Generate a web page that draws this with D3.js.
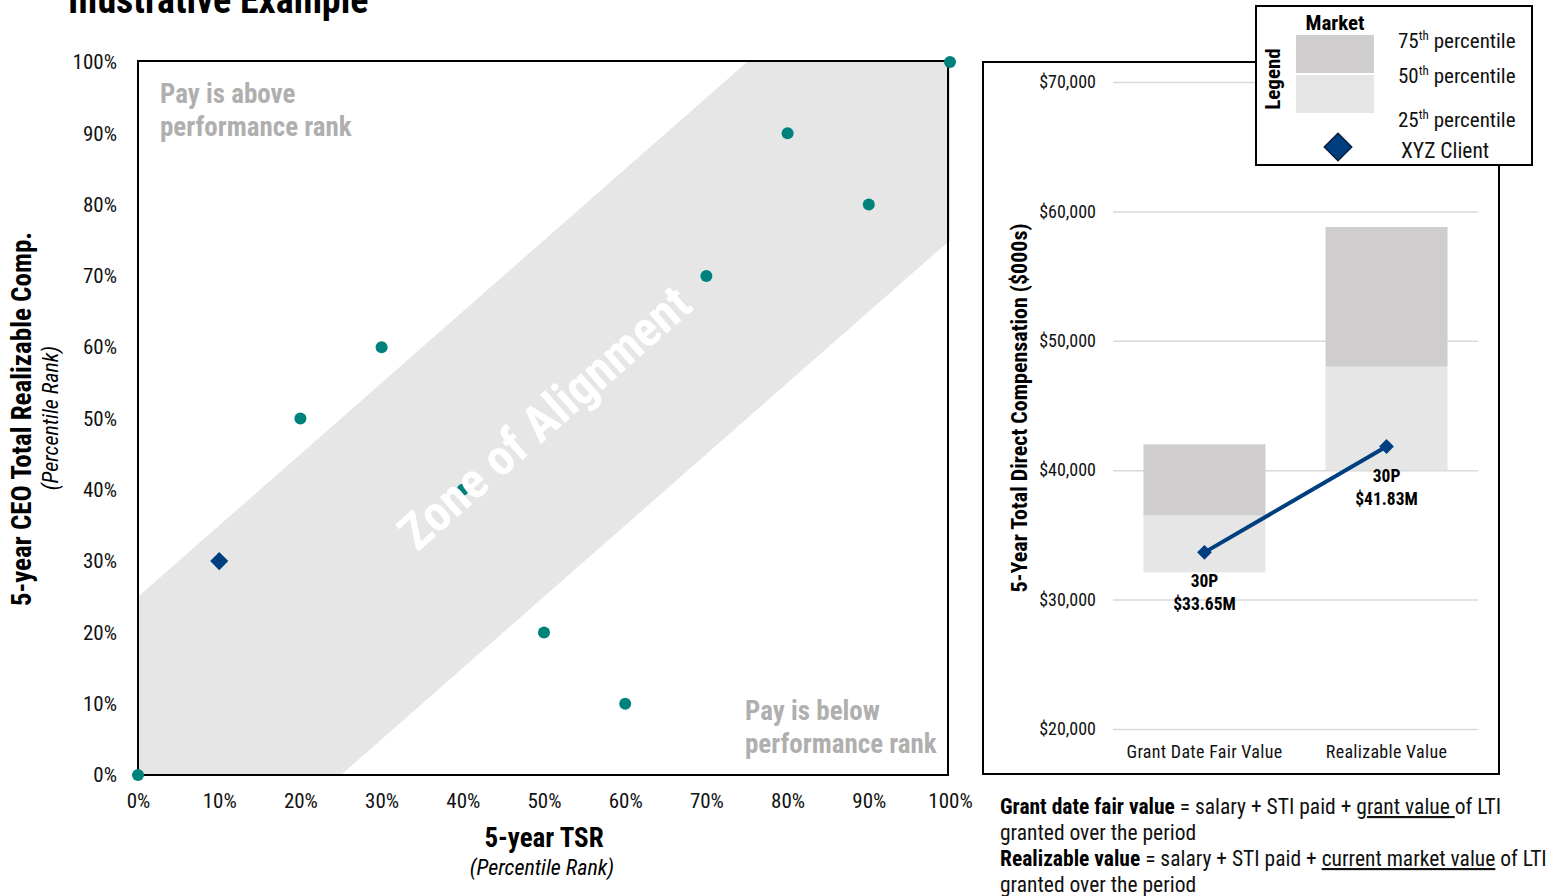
<!DOCTYPE html>
<html>
<head>
<meta charset="utf-8">
<script src="https://cdn.jsdelivr.net/npm/d3@7"></script>
<style>
  html, body { margin: 0; padding: 0; background: #fff; }
  svg { display: block; }
  text { font-family: "Roboto Condensed", "Liberation Sans Narrow", "Arial Narrow", Roboto, sans-serif; }
</style>
</head>
<body>
<svg id="chart" width="1552" height="896"></svg>
<script>
// ---- Scatter: TSR rank vs realizable pay rank ----
const peerTSR   = [0, 20, 30, 40, 50, 60, 70, 80, 90, 100];
const peerPay   = [0, 50, 60, 40, 20, 10, 70, 90, 80, 100];
const clientTSR = 10;
const clientPay = 30;
const pctTicks  = [0, 10, 20, 30, 40, 50, 60, 70, 80, 90, 100];
// band of +/- 25 percentile points around the diagonal
const zoneWidth = 25;

// ---- Compensation range panel ----
const categories = ["Grant Date Fair Value", "Realizable Value"];
const p25 = [32100, 40000];
const p50 = [36500, 48000];
const p75 = [42000, 58800];
const clientValue = [33650, 41830];
const clientLabel = ["30P", "30P"];
const clientValueText = ["$33.65M", "$41.83M"];
const compTicks = [20000, 30000, 40000, 50000, 60000, 70000];

const svg = d3.select("#chart");
const teal = "#00827c", navy = "#003f7f", zone = "#e6e6e6", upper = "#cfcdce";
const fmtPct = d => d + "%";
const fam = "'Roboto Condensed','Liberation Sans Narrow',Roboto,sans-serif";

// title (runs off the top edge)
svg.append("text").attr("x", 68).attr("y", 13)
  .attr("font-size", 38).attr("font-weight", 700).attr("fill", "#000")
  .text("Illustrative Example");

// ================= left scatter =================
const x = d3.scaleLinear().domain([0, 100]).range([138, 950]);
const y = d3.scaleLinear().domain([0, 100]).range([775, 62]);

const zonePts = [[0, 0], [0, zoneWidth], [100 - zoneWidth, 100], [100, 100], [100, 100 - zoneWidth], [zoneWidth, 0]];
svg.append("path")
  .attr("d", d3.line().x(d => x(d[0])).y(d => y(d[1]))(zonePts) + "Z")
  .attr("fill", zone);

svg.append("rect")
  .attr("x", x(0)).attr("y", y(100) - 1)
  .attr("width", 948 - x(0)).attr("height", y(0) - y(100) + 1)
  .attr("fill", "none").attr("stroke", "#000").attr("stroke-width", 2);

const yAx = svg.append("g").attr("transform", `translate(${x(0)},0)`)
  .call(d3.axisLeft(y).tickValues(pctTicks).tickFormat(fmtPct).tickSize(0).tickPadding(21));
yAx.select(".domain").remove();
yAx.selectAll("text").attr("font-size", 21).attr("fill", "#111").style("font-family", fam);

const xAx = svg.append("g").attr("transform", `translate(0,${y(0)})`)
  .call(d3.axisBottom(x).tickValues(pctTicks).tickFormat(fmtPct).tickSize(0).tickPadding(18));
xAx.select(".domain").remove();
xAx.selectAll("text").attr("font-size", 21).attr("fill", "#111").style("font-family", fam);

// peers
svg.append("g").selectAll("circle")
  .data(peerTSR.map((t, i) => [t, peerPay[i]]))
  .join("circle")
  .attr("cx", d => x(d[0])).attr("cy", d => y(d[1])).attr("r", 6)
  .attr("fill", teal);

// client
svg.append("path")
  .attr("d", d3.symbol(d3.symbolDiamond2, 210)())
  .attr("transform", `translate(${x(clientTSR)},${y(clientPay)})`)
  .attr("fill", navy);

// zone label along the diagonal
const ang = Math.atan2(y(0) - y(100), x(100) - x(0)) * 180 / Math.PI;
svg.append("text")
  .attr("transform", `translate(${x(50) + 12},${y(50) + 12}) rotate(${-ang})`)
  .attr("text-anchor", "middle").attr("font-size", 50).attr("font-weight", 700)
  .attr("fill", "#fff").text("Zone of Alignment");

const note = (lines, x0, y0) => {
  const t = svg.append("text").attr("x", x0).attr("y", y0)
    .attr("font-size", 27).attr("font-weight", 700).attr("fill", "#b0afaf");
  lines.forEach((l, i) => t.append("tspan").attr("x", x0).attr("dy", i ? 33 : 0).text(l));
};
note(["Pay is above", "performance rank"], 160, 103);
note(["Pay is below", "performance rank"], 745, 720);

// axis titles
svg.append("text").attr("transform", `translate(31,419) rotate(-90)`)
  .attr("text-anchor", "middle").attr("font-size", 27).attr("font-weight", 700)
  .text("5-year CEO Total Realizable Comp.");
svg.append("text").attr("transform", `translate(58,418) rotate(-90)`)
  .attr("text-anchor", "middle").attr("font-size", 22).attr("font-style", "italic")
  .text("(Percentile Rank)");
svg.append("text").attr("x", 544).attr("y", 847)
  .attr("text-anchor", "middle").attr("font-size", 27).attr("font-weight", 700)
  .text("5-year TSR");
svg.append("text").attr("x", 542).attr("y", 875)
  .attr("text-anchor", "middle").attr("font-size", 22).attr("font-style", "italic")
  .text("(Percentile Rank)");

// ================= right range panel =================
svg.append("rect").attr("x", 983).attr("y", 62).attr("width", 516).attr("height", 712)
  .attr("fill", "none").attr("stroke", "#000").attr("stroke-width", 2);

const y2 = d3.scaleLinear().domain([20000, 70000]).range([729, 82]);
const x2 = d3.scaleBand().domain(categories).range([1113, 1478])
  .paddingInner(0.33).paddingOuter(0.1675);

const y2Ax = svg.append("g").attr("transform", "translate(1113,0)")
  .call(d3.axisLeft(y2).tickValues(compTicks).tickFormat(d => "$" + d3.format(",")(d))
    .tickSize(-365).tickPadding(17));
y2Ax.select(".domain").remove();
y2Ax.selectAll("line").attr("stroke", "#d9d9d9").attr("stroke-width", 1.5);
y2Ax.selectAll("text").attr("font-size", 18).attr("fill", "#111").style("font-family", fam);

const bars = svg.append("g");
categories.forEach((c, i) => {
  bars.append("rect").attr("x", x2(c)).attr("width", x2.bandwidth())
    .attr("y", y2(p50[i])).attr("height", y2(p25[i]) - y2(p50[i])).attr("fill", zone);
  bars.append("rect").attr("x", x2(c)).attr("width", x2.bandwidth())
    .attr("y", y2(p75[i])).attr("height", y2(p50[i]) - y2(p75[i])).attr("fill", upper);
});

const cx = c => x2(c) + x2.bandwidth() / 2;
svg.append("path")
  .attr("d", d3.line().x((d, i) => cx(categories[i])).y(d => y2(d))(clientValue))
  .attr("fill", "none").attr("stroke", navy).attr("stroke-width", 4);
svg.append("g").selectAll("path").data(clientValue).join("path")
  .attr("d", d3.symbol(d3.symbolDiamond2, 140)())
  .attr("transform", (d, i) => `translate(${cx(categories[i])},${y2(d)})`)
  .attr("fill", navy);

clientValue.forEach((v, i) => {
  const t = svg.append("text").attr("text-anchor", "middle")
    .attr("font-size", 17.5).attr("font-weight", 700).attr("fill", "#000");
  t.append("tspan").attr("x", cx(categories[i])).attr("y", y2(v) + 35).text(clientLabel[i]);
  t.append("tspan").attr("x", cx(categories[i])).attr("dy", 23).text(clientValueText[i]);
});

svg.append("g").selectAll("text").data(categories).join("text")
  .attr("x", d => cx(d)).attr("y", 758).attr("text-anchor", "middle")
  .attr("font-size", 18).attr("letter-spacing", 0.3).attr("fill", "#111").text(d => d);

svg.append("text").attr("transform", "translate(1027,408) rotate(-90)")
  .attr("text-anchor", "middle").attr("font-size", 22).attr("font-weight", 700)
  .text("5-Year Total Direct Compensation ($000s)");

// ---- legend ----
const lg = svg.append("g");
lg.append("rect").attr("x", 1256).attr("y", 6).attr("width", 276).attr("height", 159)
  .attr("fill", "#fff").attr("stroke", "#000").attr("stroke-width", 2);
lg.append("text").attr("transform", "translate(1280,79) rotate(-90)")
  .attr("text-anchor", "middle").attr("font-size", 21).attr("font-weight", 700).text("Legend");
lg.append("text").attr("x", 1335).attr("y", 30).attr("text-anchor", "middle")
  .attr("font-size", 21).attr("font-weight", 700).text("Market");
lg.append("rect").attr("x", 1296).attr("y", 35).attr("width", 78).attr("height", 38).attr("fill", upper);
lg.append("rect").attr("x", 1296).attr("y", 75).attr("width", 78).attr("height", 38).attr("fill", zone);
[["75", 48], ["50", 83], ["25", 127]].forEach(([n, yy]) => {
  const t = lg.append("text").attr("x", 1398).attr("y", yy).attr("font-size", 21).attr("fill", "#111");
  t.append("tspan").text(n);
  t.append("tspan").attr("font-size", 13).attr("dy", -8).text("th");
  t.append("tspan").attr("dy", 8).text(" percentile");
});
lg.append("path").attr("d", d3.symbol(d3.symbolDiamond2, 480)())
  .attr("transform", "translate(1338,147)").attr("fill", navy)
  .attr("stroke", "#0a1e3a").attr("stroke-width", 1.5);
lg.append("text").attr("x", 1401).attr("y", 158).attr("font-size", 21.5).attr("fill", "#111").text("XYZ Client");

// ---- definitions ----
const defs = [
  [[{ t: "Grant date fair value", b: 1 }, { t: " = salary + STI paid + " }, { t: "grant value ", u: 1 }, { t: "of LTI" }]],
  [[{ t: "granted over the period" }]],
  [[{ t: "Realizable value", b: 1 }, { t: " = salary + STI paid + " }, { t: "current market value", u: 1 }, { t: " of LTI" }]],
  [[{ t: "granted over the period" }]]
];
defs.forEach((line, i) => {
  const t = svg.append("text").attr("x", 1000).attr("y", 814 + i * 26)
    .attr("font-size", 21.5).attr("fill", "#111");
  line[0].forEach(s => {
    const sp = t.append("tspan").text(s.t);
    if (s.b) sp.attr("font-weight", 700).attr("fill", "#000");
    if (s.u) sp.style("text-decoration", "underline");
  });
});
</script>
</body>
</html>
